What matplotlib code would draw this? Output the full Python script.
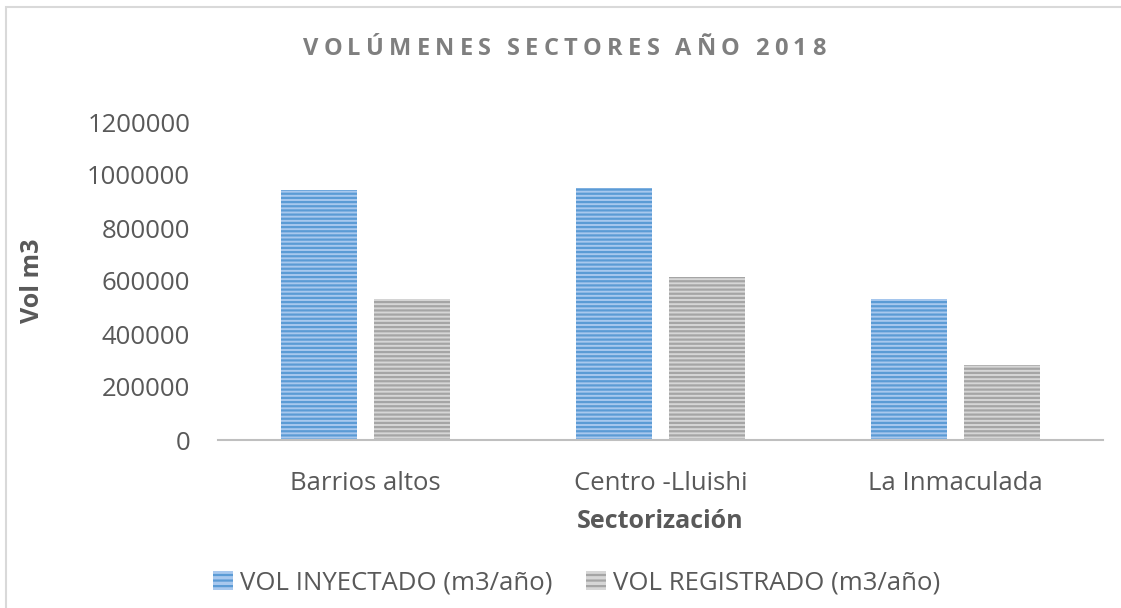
import matplotlib
matplotlib.use("Agg")
import matplotlib.pyplot as plt
import numpy as np
from matplotlib.patches import Rectangle, Patch
from matplotlib.ticker import StrMethodFormatter

sectores = ["Barrios altos", "Centro -Lluishi", "La Inmaculada"]
vol_inyectado = [942000, 950000, 531000]
vol_registrado = [533000, 615000, 283000]
etiquetas = ["VOL INYECTADO (m3/año)", "VOL REGISTRADO (m3/año)"]
titulo = "VOLÚMENES SECTORES AÑO 2018"

plt.rcParams["font.family"] = ["Open Sans", "DejaVu Sans"]
plt.rcParams["hatch.linewidth"] = 1.6
txt_color = "#595959"

W, H = 1121, 608
fig = plt.figure(figsize=(W / 100, H / 100), dpi=100)
ax = fig.add_axes([218 / W, 1 - 440 / H, (1103 - 218) / W, (440 - 122) / H])

x = np.arange(len(sectores))
ancho = 0.26
ax.bar(x - 0.158, vol_inyectado, ancho, color="#a8c8ee", edgecolor="#5b9bd5",
       linewidth=0, hatch="----", label=etiquetas[0])
ax.bar(x + 0.158, vol_registrado, ancho, color="#d6d6d6", edgecolor="#a5a5a5",
       linewidth=0, hatch="----", label=etiquetas[1])

ax.set_xlim(-0.5, 2.5)
ax.set_ylim(0, 1200000)
ax.set_yticks(range(0, 1200001, 200000))
ax.yaxis.set_major_formatter(StrMethodFormatter("{x:.0f}"))
ax.set_xticks(x)
ax.set_xticklabels(sectores)
ax.tick_params(length=0, labelsize=18.5, colors=txt_color)
ax.tick_params(axis="y", pad=20)
ax.tick_params(axis="x", pad=22)
for s in ["top", "right", "left"]:
    ax.spines[s].set_visible(False)
ax.spines["bottom"].set_color("#bfbfbf")
ax.spines["bottom"].set_linewidth(1.5)

ax.set_xlabel("Sectorización", fontsize=18, fontweight="bold", color=txt_color, labelpad=10)
ax.set_ylabel("Vol m3", fontsize=18, fontweight="bold", color=txt_color, labelpad=30)

# leyenda abajo
handles = [Patch(facecolor="#a8c8ee", edgecolor="#5b9bd5", linewidth=0, hatch="---"),
           Patch(facecolor="#d6d6d6", edgecolor="#a5a5a5", linewidth=0, hatch="---")]
fig.legend(handles, etiquetas, loc="center", bbox_to_anchor=(577 / W, 1 - 583 / H),
           ncol=2, frameon=False, fontsize=18.5, labelcolor=txt_color,
           handlelength=0.75, handleheight=0.75, handletextpad=0.3, columnspacing=1.3)

# titulo con espaciado entre letras
def titulo_espaciado(texto, cx, cy, espacio, **kw):
    r = fig.canvas.get_renderer()
    anchos = []
    for ch in texto:
        if ch == " ":
            anchos.append(5)
            continue
        t = fig.text(0, 0, ch, **kw)
        anchos.append(t.get_window_extent(r).width)
        t.remove()
    total = sum(anchos) + espacio * (len(texto) - 1)
    xp = cx - total / 2
    for ch, w in zip(texto, anchos):
        if ch != " ":
            fig.text(xp / W, 1 - cy / H, ch, ha="left", va="center", **kw)
        xp += w + espacio

titulo_espaciado(titulo, 564, 49, 5.3, fontsize=17, fontweight="bold", color="#7f7f7f")

# marco del grafico
fig.patches.append(Rectangle((6 / W, -0.1), 1.2, 1 - 7 / H + 0.1, transform=fig.transFigure,
                             fill=False, edgecolor="#d9d9d9", linewidth=1.5))

fig.savefig("out.png", dpi=100)
